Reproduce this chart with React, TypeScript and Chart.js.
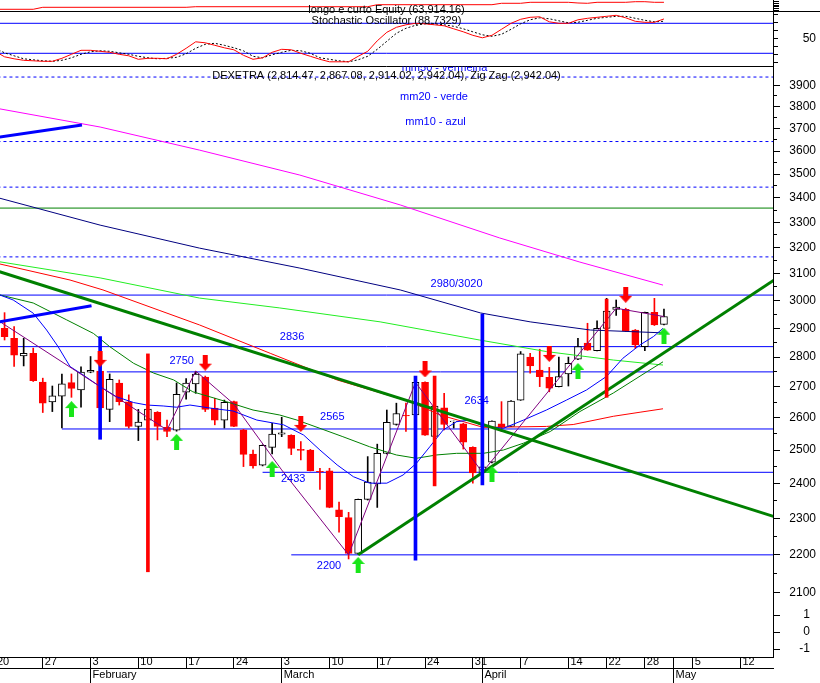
import React, { useEffect, useRef } from 'react';
import { Chart, registerables } from 'chart.js';

Chart.register(...registerables);

const FONT = '"Liberation Sans", Arial, Helvetica, sans-serif';
const RED = '#ff0000';
const BLUE = '#0000ff';
const LIME = '#19e619';

// ---------- axis ranges ----------
const X_MIN = 0.523;
const X_MAX = 81.41;
const PRICE_MIN = 1942.3;
const PRICE_MAX = 4328.1;
const STOCH_MIN = -1187.4;
const STOCH_MAX = 126.6;
const STOCH_PANEL_TOP = 104.6;
const STOCH_PANEL_BOTTOM = -4.8;
const Z_MIN = -1.4706;
const Z_MAX = 37.18;
const EQ_MIN = -2118.4;
const EQ_MAX = 71.57;

// ---------- time axis (trading-day index, 0 = Jan 20) ----------
const dayTickIdx = [0, 5, 10, 15, 20, 25, 30, 35, 40, 45, 50, 51, 55, 60, 64, 68, 71, 73, 78];
const dayTickLbl = ['20', '27', '3', '10', '17', '24', '3', '10', '17', '24', '31', '', '7', '14', '22', '28', '', '5', '12'];
const monthTickIdx = [10, 30, 51, 71];
const monthTickLbl = ['February', 'March', 'April', 'May'];

// ---------- value axes ticks ----------
const priceTicks = [2100, 2200, 2300, 2400, 2500, 2600, 2700, 2800, 2900, 3000, 3100, 3200, 3300, 3400, 3500, 3600, 3700, 3800, 3900];
const priceMinorTicks = [2150, 2250, 2350, 2450, 2550, 2650, 2750, 2850, 2950, 3050, 3150, 3250, 3350, 3450, 3550, 3650, 3750, 3850];
const stochTicks = [2, 18, 34, 50, 66, 82, 98];
const zTicks = [1, 0, -1];
const eqTicks = [37.6, 43.2, 48.9, 54.6, 60.2, 65.9];

// ---------- candles (index 1..70) ----------
const opens = [2900, 2865, 2804, 2813, 2716, 2651, 2670, 2714, 2690, 2749, 2753, 2627, 2713, 2651, 2573, 2593, 2618, 2570, 2561, 2683, 2710, 2733, 2631, 2593, 2652, 2562, 2488, 2454, 2508, 2549, 2545, 2502, 2500, 2436, 2437, 2324, 2302, 2204, 2354, 2399, 2490, 2579, 2608, 2609, 2715, 2542, 2632, 2588, 2581, 2508, 2433, 2463, 2581, 2573, 2657, 2800, 2756, 2732, 2701, 2743, 2793, 2848, 2822, 2900, 2968, 2968, 2894, 2836, 2957, 2914];
const highs = [2956, 2906, 2865, 2831, 2729, 2703, 2743, 2743, 2767, 2802, 2762, 2743, 2723, 2674, 2627, 2639, 2620, 2593, 2713, 2728, 2751, 2736, 2663, 2657, 2654, 2564, 2500, 2516, 2583, 2602, 2547, 2526, 2502, 2445, 2445, 2346, 2317, 2355, 2480, 2518, 2625, 2647, 2647, 2716, 2717, 2640, 2679, 2590, 2583, 2510, 2456, 2591, 2652, 2655, 2819, 2813, 2827, 2765, 2800, 2800, 2865, 2918, 2927, 3008, 3002, 2972, 2896, 2958, 3008, 2969];
const lows = [2859, 2768, 2770, 2718, 2617, 2620, 2568, 2666, 2634, 2747, 2625, 2588, 2641, 2568, 2529, 2590, 2531, 2541, 2558, 2660, 2679, 2620, 2578, 2568, 2572, 2450, 2445, 2452, 2488, 2541, 2486, 2470, 2437, 2383, 2330, 2262, 2189, 2202, 2352, 2331, 2488, 2577, 2557, 2607, 2545, 2540, 2562, 2568, 2503, 2401, 2431, 2461, 2557, 2572, 2656, 2746, 2701, 2684, 2700, 2703, 2791, 2823, 2821, 2899, 2946, 2889, 2830, 2822, 2910, 2912];
const closes = [2871, 2807, 2813, 2721, 2647, 2671, 2710, 2695, 2749, 2755, 2632, 2725, 2652, 2573, 2587, 2628, 2573, 2557, 2676, 2713, 2743, 2627, 2593, 2650, 2573, 2487, 2452, 2514, 2549, 2553, 2505, 2499, 2438, 2434, 2331, 2305, 2204, 2354, 2404, 2490, 2586, 2614, 2606, 2715, 2546, 2638, 2579, 2590, 2524, 2431, 2449, 2590, 2570, 2654, 2811, 2770, 2734, 2696, 2734, 2779, 2836, 2824, 2900, 2962, 2976, 2891, 2842, 2957, 2912, 2942];

// ---------- moving averages & indicators [index, value] ----------
const mm10 = [[0, 3027], [1.9, 3002], [4, 2954], [5.4, 2894], [6.6, 2836], [7.85, 2768], [9.2, 2740], [11, 2701], [12.7, 2668], [14.5, 2649], [15.9, 2641], [17.6, 2638], [19, 2634], [20.4, 2641], [22.8, 2630], [24.9, 2622], [27.4, 2593], [30.2, 2578], [32.3, 2546], [34, 2500], [35.8, 2455], [37.5, 2420], [39.2, 2401], [41, 2401], [42.7, 2425], [44.1, 2460], [45.5, 2510], [46.9, 2562], [48.3, 2588], [49.7, 2593], [51.1, 2574], [53.2, 2567], [55.3, 2593], [57.7, 2625], [59.8, 2657], [61.9, 2690], [64, 2735], [65.7, 2796], [67.5, 2842], [68.9, 2871], [69.9, 2900]];
const mm20 = [[0, 3025], [4, 2991], [7.5, 2930], [10.3, 2882], [12, 2836], [14.5, 2779], [16.6, 2746], [18.7, 2723], [20.7, 2684], [24.2, 2652], [27, 2625], [29.8, 2609], [31.6, 2593], [34, 2567], [36.4, 2541], [39.2, 2510], [42, 2485], [44.1, 2475], [46.2, 2485], [48.3, 2490], [51.1, 2490], [53.2, 2500], [55.3, 2521], [58.1, 2557], [61.2, 2620], [64.7, 2680], [68.2, 2750], [69.9, 2784]];
const mm50 = [[0, 3141], [7.85, 3076], [11.3, 3039], [21.4, 2912], [28.8, 2813], [35.8, 2723], [43.4, 2652], [46.6, 2609], [51.1, 2570], [57.7, 2573], [60.5, 2579], [64.7, 2605], [67.5, 2618], [69.9, 2629]];
const maLight = [[0, 3148], [11, 3084], [21.4, 3009], [29.8, 2973], [40.3, 2923], [50.7, 2859], [57.7, 2819], [64.7, 2790], [69.9, 2773]];
const maNavy = [[0, 3404], [11, 3289], [21.4, 3198], [31.9, 3121], [42.4, 3039], [50.8, 2955], [56, 2923], [62.3, 2894], [69.9, 2884]];
const maMagenta = [[0, 3794], [11, 3707], [21.4, 3604], [31.9, 3496], [42.4, 3371], [52.8, 3238], [61.2, 3144], [69.9, 3057]];
const zigzag = [[0, 2935], [18, 2562], [21, 2753], [25, 2644], [30, 2440], [37, 2200], [44, 2715], [51, 2433], [65, 2972], [70, 2942]];

// stochastic %K / %D, index 0..70
const stochK = [24, 13, 9, 6, 5, 4, 4, 10, 18, 26, 26, 24, 22, 18, 15, 8, 10, 10, 9, 18, 30, 43, 41, 36, 31, 27, 16, 8, 11, 22, 28, 27, 20, 14, 8, 3, 3, 3, 14, 24, 45, 62, 72, 77, 80, 79, 77, 75, 69, 63, 56, 51, 56, 68, 80, 88, 92, 93, 83, 80, 80, 87, 90, 92, 94, 96, 91, 84, 82, 82, 88.7];
const stochD = [30, 21, 15, 9, 7, 5, 4, 6, 11, 18, 23, 25, 24, 21, 18, 14, 11, 9, 10, 12, 19, 30, 38, 40, 36, 31, 25, 14, 11, 17, 22, 26, 25, 20, 11, 8, 5, 3, 7, 14, 28, 44, 60, 70, 76, 79, 79, 77, 74, 69, 63, 57, 54, 58, 68, 79, 87, 91, 89, 85, 81, 82, 86, 90, 92, 94, 94, 90, 86, 83, 84];
const stochLevels = [80, 20];

// equity (thousands)
const equity = [[0, 40.6], [4, 40.6], [5, 47.2], [20, 47.2], [21, 49.2], [39, 49.2], [40, 55.9], [52, 55.9], [53, 60.6], [55, 60.6], [56, 63.9], [60, 63.9], [61, 61.6], [62, 60.6], [63, 63.9], [66, 63.9], [67, 65.9], [68, 65.9], [69, 63.9], [70, 63.9]];

// ---------- drawn studies ----------
const supportLevels = [[3020, -1], [2836, -1], [2750, 11.7], [2565, 7], [2433, 28], [2200, 31]];
const dashedLevels = [3940, 3642, 3445, 3164];
const greenLevel = 3358;
const downTrend = [[-1, 3124], [82, 2301]];
const upTrend = [[38, 2200], [82, 3087]];
const blueSeg1 = [[0, 3659], [9.1, 3716]];
const blueSeg2 = [[0, 2920], [10.1, 2981]];
const blueVerticals = [[11, 2533, 2871], [44, 2186, 2736], [51, 2396, 2951]];
const redVerticals = [[16, 2155, 2811], [46, 2393, 2736], [64, 2666, 3005]];
const upArrows = [[8, 2628], [19, 2525], [29, 2443], [38, 2173], [52, 2428], [61, 2753], [70, 2874]];
const downArrows = [[11, 2794], [22, 2781], [32, 2581], [45, 2758], [58, 2811], [66, 3021]];
const levelLabels = [['2750', 19.54, 2787], ['2836', 31.08, 2869], ['2565', 35.3, 2603], ['2433', 31.2, 2414], ['2200', 34.95, 2170], ['2634', 50.4, 2654], ['2980/3020', 48.3, 3061]];

const titleEquity = 'longo e curto Equity (63,914.16)';
const titleStoch = 'Stochastic Oscillator (88.7329)';
const titlePrice = 'DEXETRA (2,814.47, 2,867.08, 2,914.02, 2,942.04), Zig Zag (2,942.04)';

const P = (arr: number[][]) => arr.map(([x, y]) => ({ x, y }));

function makeArrow(up: boolean, color: string) {
  const c = document.createElement('canvas');
  c.width = 13;
  c.height = 16;
  const g = c.getContext('2d') as CanvasRenderingContext2D;
  g.fillStyle = color;
  if (up) {
    g.beginPath(); g.moveTo(6.5, 0); g.lineTo(13, 7); g.lineTo(0, 7); g.closePath(); g.fill();
    g.fillRect(4, 7, 5, 9);
  } else {
    g.fillRect(4, 0, 5, 9);
    g.beginPath(); g.moveTo(0, 9); g.lineTo(13, 9); g.lineTo(6.5, 16); g.closePath(); g.fill();
  }
  return c;
}

const zeroPad = (s: any) => { s.paddingTop = 0; s.paddingBottom = 0; s.paddingLeft = 0; s.paddingRight = 0; };

// right edge (px) of the right-aligned tick labels of each value axis
const labelRightEdge: Record<string, number> = { y: 816, yS: 816, yZ: 810 };

const overlayPlugin = {
  id: 'overlay',
  afterLayout(chart: any) {
    for (const id of Object.keys(labelRightEdge)) {
      const s = chart.scales[id];
      if (s) { s.right = labelRightEdge[id]; s.width = s.right - s.left; }
    }
  },
  beforeDatasetsDraw(chart: any) {
    const { ctx, scales, chartArea } = chart;
    const yS = scales.yS;
    ctx.save();
    ctx.strokeStyle = '#000';
    ctx.lineWidth = 1;
    const a = Math.round(yS.getPixelForValue(STOCH_PANEL_TOP)) + 0.5;
    const b = Math.round(yS.getPixelForValue(STOCH_PANEL_BOTTOM)) + 0.5;
    ctx.beginPath();
    ctx.moveTo(0, a); ctx.lineTo(chart.width, a);
    ctx.moveTo(0, b); ctx.lineTo(chartArea.right, b);
    ctx.stroke();
    ctx.restore();
  },
  afterDatasetsDraw(chart: any) {
    const { ctx, chartArea, scales } = chart;
    const x = scales.x;
    const y = scales.y;
    ctx.save();
    ctx.font = `11px ${FONT}`;
    ctx.textBaseline = 'middle';
    ctx.textAlign = 'center';
    const cx = (chartArea.left + chartArea.right) / 2;
    ctx.fillStyle = '#000';
    ctx.fillText(titleEquity, cx, 10);
    ctx.fillText(titleStoch, cx, 21);
    ctx.fillText(titlePrice, cx, 76);
    ctx.fillStyle = BLUE;
    ctx.fillText('mm20 - verde', 434, 97);
    ctx.fillText('mm10 - azul', 435.5, 122);
    ctx.save();
    ctx.beginPath();
    ctx.rect(0, 66.5, chartArea.right, 20);
    ctx.clip();
    ctx.fillText('mm50 - vermelha', 444.5, 67.5);
    ctx.restore();
    for (const [t, i, v] of levelLabels as any[]) {
      ctx.fillText(t, x.getPixelForValue(i), y.getPixelForValue(v));
    }
    ctx.restore();
  },
};

export default function App() {
  const ref = useRef<HTMLCanvasElement>(null);

  useEffect(() => {
    document.body.style.margin = '0';
    const canvas = ref.current as HTMLCanvasElement;
    const upImg = makeArrow(true, LIME);
    const downImg = makeArrow(false, RED);

    const line = (data: any[], color: string, width: number, order: number, extra: any = {}) => ({
      type: 'line', data, borderColor: color, borderWidth: width, pointRadius: 0, fill: false,
      tension: 0, xAxisID: 'x', yAxisID: 'y', order, ...extra,
    });

    const datasets: any[] = [];
    dashedLevels.forEach((v) => datasets.push(line([{ x: -1, y: v }, { x: 90, y: v }], BLUE, 1, 30, { borderDash: [3, 3] })));
    datasets.push(line([{ x: -1, y: greenLevel }, { x: 90, y: greenLevel }], '#008000', 1, 30));
    supportLevels.forEach(([v, from]) => datasets.push(line([{ x: from, y: v }, { x: 90, y: v }], BLUE, 1, 29)));
    stochLevels.forEach((v) => datasets.push(line([{ x: -1, y: v }, { x: 90, y: v }], BLUE, 1, 28, { yAxisID: 'yS' })));
    datasets.push(line(P(equity), RED, 1, 27, { yAxisID: 'yEq' }));
    datasets.push(line(stochD.map((v, i) => ({ x: i, y: v })), '#000', 1, 26, { yAxisID: 'yS', borderDash: [2, 2] }));
    datasets.push(line(stochK.map((v, i) => ({ x: i, y: v })), RED, 1, 25, { yAxisID: 'yS' }));

    // candles
    datasets.push({
      type: 'bar', order: 21, xAxisID: 'x', yAxisID: 'y', grouped: false, barThickness: 1,
      data: lows.map((l, k) => ({ x: k + 1, y: [l, highs[k]] })),
      backgroundColor: closes.map((c, k) => (c >= opens[k] ? '#000' : RED)),
    });
    datasets.push({
      type: 'bar', order: 20, xAxisID: 'x', yAxisID: 'y', grouped: false, barThickness: 7,
      borderSkipped: false, borderWidth: 1,
      data: opens.map((o, k) => ({ x: k + 1, y: [o, closes[k]] })),
      backgroundColor: closes.map((c, k) => (c >= opens[k] ? '#fff' : RED)),
      borderColor: closes.map((c, k) => (c >= opens[k] ? '#000' : RED)),
    });

    // moving averages
    datasets.push(line(P(maMagenta), '#ff00ff', 1, 15));
    datasets.push(line(P(maNavy), '#000080', 1, 15));
    datasets.push(line(P(maLight), '#22ee22', 1, 15));
    datasets.push(line(P(mm50), RED, 1, 14));
    datasets.push(line(P(mm20), '#008000', 1, 13));
    datasets.push(line(P(mm10), BLUE, 1, 12));
    datasets.push(line(P(zigzag), '#800080', 1, 11));

    // trend lines
    datasets.push(line(P(downTrend), '#008000', 3, 8));
    datasets.push(line(P(upTrend), '#008000', 3, 8));
    datasets.push(line(P(blueSeg1), BLUE, 3, 8));
    datasets.push(line(P(blueSeg2), BLUE, 3, 8));

    // vertical signal bars
    datasets.push({
      type: 'bar', order: 5, xAxisID: 'x', yAxisID: 'y', grouped: false, barThickness: 3,
      data: blueVerticals.map(([i, a, b]) => ({ x: i, y: [a, b] })), backgroundColor: BLUE,
    });
    datasets.push({
      type: 'bar', order: 5, xAxisID: 'x', yAxisID: 'y', grouped: false, barThickness: 3,
      data: redVerticals.map(([i, a, b]) => ({ x: i, y: [a, b] })), backgroundColor: RED,
    });

    // arrows
    datasets.push(line(P(upArrows), LIME, 0, 2, { showLine: false, pointRadius: 5, pointStyle: upImg }));
    datasets.push(line(P(downArrows), RED, 0, 2, { showLine: false, pointRadius: 5, pointStyle: downImg }));

    const tickFont = { family: FONT, size: 12 };
    const blackGrid = (len: number) => ({ drawOnChartArea: false, drawTicks: true, tickLength: len, color: '#000', lineWidth: 1, offset: false });

    const chart = new Chart(canvas, {
      type: 'line',
      data: { datasets },
      plugins: [overlayPlugin],
      options: {
        responsive: false,
        animation: false,
        events: [],
        layout: { padding: 0, autoPadding: false },
        plugins: { legend: { display: false }, tooltip: { enabled: false }, title: { display: false } },
        scales: {
          x: {
            type: 'linear', position: 'bottom', weight: 0, min: X_MIN, max: X_MAX, offset: false, bounds: 'data',
            afterBuildTicks: (s: any) => { s.ticks = dayTickIdx.map((v) => ({ value: v })); },
            afterFit: (s: any) => { s.height = 11; zeroPad(s); },
            grid: blackGrid(11),
            border: { display: true, color: '#000', width: 1 },
            ticks: {
              autoSkip: false, maxRotation: 0, minRotation: 0, align: 'start', labelOffset: 2, padding: -12.6,
              color: '#000', font: { family: FONT, size: 11 },
              callback: (_v: any, idx: number) => dayTickLbl[idx] ?? '',
            },
          },
          xMonth: {
            type: 'linear', position: 'bottom', weight: 1, min: X_MIN, max: X_MAX, offset: false, bounds: 'data',
            afterBuildTicks: (s: any) => { s.ticks = monthTickIdx.map((v) => ({ value: v })); },
            afterFit: (s: any) => { s.height = 15; zeroPad(s); },
            grid: blackGrid(15),
            border: { display: true, color: '#000', width: 1 },
            ticks: {
              autoSkip: false, maxRotation: 0, minRotation: 0, align: 'start', labelOffset: 2, padding: -14.6,
              color: '#000', font: { family: FONT, size: 11 },
              callback: (_v: any, idx: number) => monthTickLbl[idx] ?? '',
            },
          },
          yEq: {
            type: 'linear', position: 'right', weight: 0, min: EQ_MIN, max: EQ_MAX, bounds: 'data',
            afterBuildTicks: (s: any) => { s.ticks = eqTicks.map((v) => ({ value: v })); },
            afterFit: (s: any) => { s.width = 0; zeroPad(s); },
            grid: blackGrid(6),
            border: { display: false },
            ticks: { display: false },
          },
          yS: {
            type: 'linear', position: 'right', weight: 0, min: STOCH_MIN, max: STOCH_MAX, bounds: 'data',
            afterBuildTicks: (s: any) => { s.ticks = stochTicks.map((v) => ({ value: v })); },
            afterFit: (s: any) => { s.width = 0; zeroPad(s); },
            grid: blackGrid(5),
            border: { display: false },
            ticks: {
              autoSkip: false, crossAlign: 'far', padding: 20, color: '#000', font: tickFont,
              callback: (v: any) => (v === 50 ? '50' : ''),
            },
          },
          yZ: {
            type: 'linear', position: 'right', weight: 0, min: Z_MIN, max: Z_MAX, bounds: 'data',
            afterBuildTicks: (s: any) => { s.ticks = zTicks.map((v) => ({ value: v })); },
            afterFit: (s: any) => { s.width = 0; zeroPad(s); },
            grid: blackGrid(7),
            border: { display: false },
            ticks: { autoSkip: false, crossAlign: 'far', padding: 11, color: '#000', font: tickFont, callback: (v: any) => String(v) },
          },
          yMinor: {
            type: 'logarithmic', position: 'right', weight: 0, min: PRICE_MIN, max: PRICE_MAX, bounds: 'data',
            afterBuildTicks: (s: any) => { s.ticks = priceMinorTicks.map((v) => ({ value: v })); },
            afterFit: (s: any) => { s.width = 0; zeroPad(s); },
            grid: blackGrid(4),
            border: { display: false },
            ticks: { display: false },
          },
          y: {
            type: 'logarithmic', position: 'right', weight: 1, min: PRICE_MIN, max: PRICE_MAX, bounds: 'data', beginAtZero: false,
            afterBuildTicks: (s: any) => { s.ticks = priceTicks.map((v) => ({ value: v })); },
            afterFit: (s: any) => { s.width = 47; zeroPad(s); },
            grid: blackGrid(7),
            border: { display: true, color: '#000', width: 1 },
            ticks: { autoSkip: false, crossAlign: 'far', padding: 6.5, color: '#000', font: tickFont, callback: (v: any) => String(v) },
          },
        },
      } as any,
    } as any);

    return () => chart.destroy();
  }, []);

  return (
    <div style={{ width: 820, height: 683 }}>
      <canvas ref={ref} width={820} height={683} style={{ display: 'block', width: 820, height: 683 }} />
    </div>
  );
}
